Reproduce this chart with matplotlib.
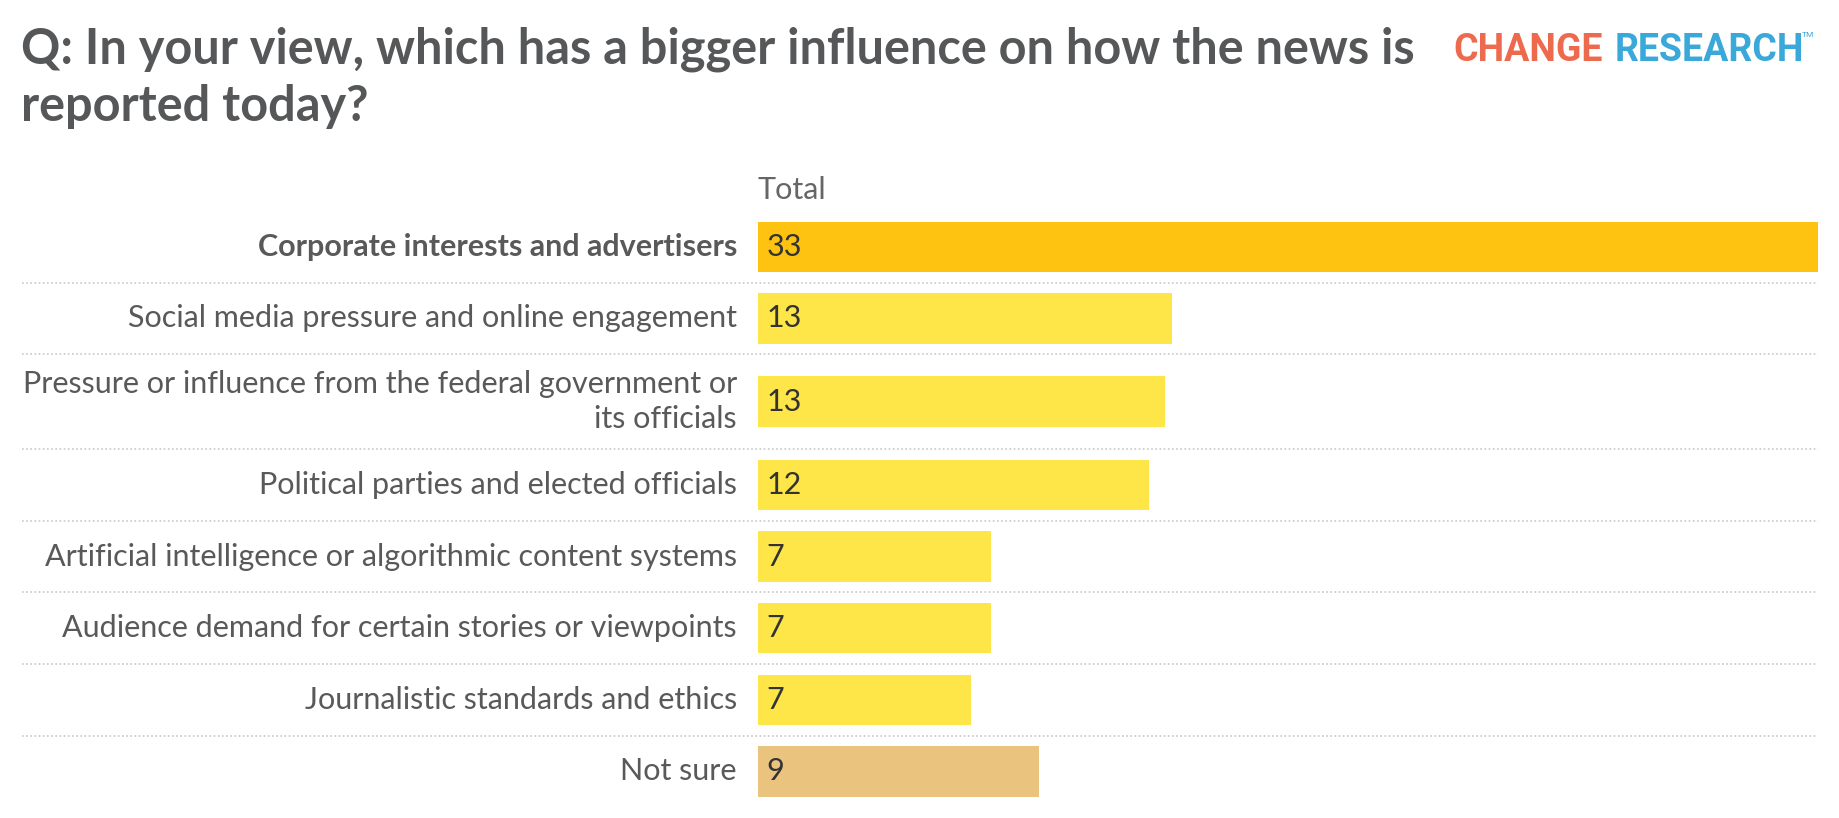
import matplotlib
matplotlib.use("Agg")
import matplotlib.pyplot as plt

plt.rcParams['font.family'] = ['Lato', 'DejaVu Sans']

W, H = 1840, 818

categories = [
    "Corporate interests and advertisers",
    "Social media pressure and online engagement",
    "Pressure or influence from the federal government or\nits officials",
    "Political parties and elected officials",
    "Artificial intelligence or algorithmic content systems",
    "Audience demand for certain stories or viewpoints",
    "Journalistic standards and ethics",
    "Not sure",
]
values = [32.8, 12.8, 12.6, 12.1, 7.2, 7.2, 6.6, 8.7]
shown = [33, 13, 13, 12, 7, 7, 7, 9]
colors = ["#FEC210"] + ["#FEE648"] * 6 + ["#EAC47E"]

title_lines = ["Q: In your view, which has a bigger influence on how the news is",
               "reported today?"]

# row layout in pixels (one-line rows and taller two-line rows)
ROW1, ROW2, BAR_H = 71.6, 95.0, 50.5
rows = [ROW2 if "\n" in c else ROW1 for c in categories]
tops = [sum(rows[:i]) for i in range(len(rows))]
centers = [t + r / 2 for t, r in zip(tops, rows)]
total_h = sum(rows)

x0, x1, y_top = 758, 1818, 211
fig = plt.figure(figsize=(W / 100, H / 100), dpi=100)
ax = fig.add_axes([x0 / W, (H - y_top - total_h) / H, (x1 - x0) / W, total_h / H])
ax.barh(centers, values, height=BAR_H, color=colors, linewidth=0)
ax.set_xlim(0, values[0])
ax.set_ylim(total_h, 0)
ax.axis("off")

yt = ax.get_yaxis_transform()
lab_x = (737 - x0) / (x1 - x0)
for i, (c, y) in enumerate(zip(categories, centers)):
    ax.text(lab_x, y, c, transform=yt, ha="right", va="center", multialignment="right",
            fontsize=22, color="#595959", linespacing=1.3,
            fontweight="bold" if i == 0 else "normal")
    ax.annotate(str(shown[i]), xy=(0, y), xytext=(6, 0), textcoords="offset points",
                ha="left", va="center", fontsize=22, color="#333333")
    if i < len(categories) - 1:
        ax.axhline(tops[i] + rows[i], xmin=(22 - x0) / (x1 - x0), xmax=1,
                   color="#c8c8c8", linestyle=(0, (1, 1.5)), linewidth=1.2, clip_on=False)

for k, line in enumerate(title_lines):
    fig.text(21 / W, 1 - (63 + 58 * k) / H, line, ha="left", va="baseline", fontsize=35,
             fontweight="bold", color="#555758")
fig.text(x0 / W, 1 - 190 / H, "Total", ha="left", va="center", fontsize=22, color="#666666")

fig.text(1453 / W, 1 - 61 / H, "CHANGE", ha="left", va="baseline", fontsize=27,
         fontweight="bold", color="#EE6A4E", family="Roboto")
fig.text(1615 / W, 1 - 61 / H, "RESEARCH", ha="left", va="baseline", fontsize=27,
         fontweight="bold", color="#3AA8D9", family="Roboto")
fig.text(1802 / W, 1 - 37 / H, "TM", ha="left", va="baseline", fontsize=6,
         color="#3AA8D9", family="Roboto")

fig.savefig("out.png", dpi=100)
